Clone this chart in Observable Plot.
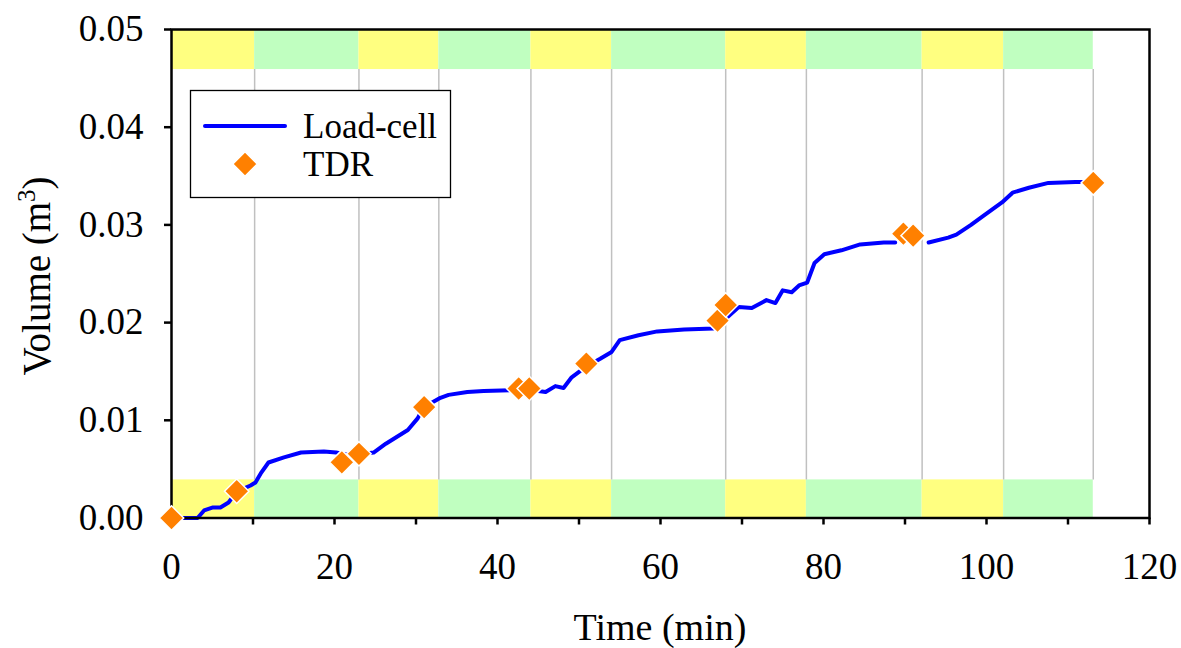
<!DOCTYPE html>
<html><head><meta charset="utf-8">
<script src="https://cdn.jsdelivr.net/npm/d3@7"></script>
<script src="https://cdn.jsdelivr.net/npm/@observablehq/plot@0.6"></script>
<style>body{margin:0;background:#fff}#chart{position:relative;width:1181px;height:648px}</style>
</head><body><div id="chart"></div>
<script>
// Load-cell series (time in min, volume in m3); NaN marks the missing stretch
const loadTime = [0, 1.5, 3.2, 4.0, 5.1, 6.0, 7.0, 8.0, 9.7, 10.3, 10.95, 11.9, 13.8, 15.9, 18.7, 20.2, 22.0, 24.8, 26.3, 29.0, 30.2, 30.9, 33.0, 34.0, 36.3, 38.3, 42.0, 44.1, 45.9, 47.1, 48.1, 49.1, 50.7, 52.6, 54.0, 55.0, 57.3, 59.6, 62.9, 66.5, 68.0, 69.6, 71.2, 73.0, 74.1, 75.0, 76.1, 77.0, 78.0, 78.9, 80.1, 82.2, 84.5, 87.4, 88.8, 90.8, 92.9, 95.3, 96.3, 98.1, 99.4, 101.9, 103.2, 105.2, 107.6, 110.9, 112.1];
const loadVolume = [0, 0, 0, 0.00077, 0.00108, 0.00108, 0.00159, 0.0027, 0.00333, 0.00364, 0.00456, 0.00568, 0.0062, 0.0067, 0.0068, 0.0067, 0.0064, 0.0067, 0.0076, 0.0090, 0.0102, 0.0113, 0.0123, 0.0126, 0.0129, 0.0130, 0.0131, 0.0131, 0.0129, 0.0135, 0.0133, 0.0144, 0.0154, 0.0163, 0.0170, 0.0182, 0.0187, 0.0191, 0.0193, 0.0194, 0.0204, 0.0216, 0.0215, 0.0223, 0.0220, 0.0233, 0.0231, 0.0238, 0.0241, 0.0261, 0.0270, 0.0274, 0.0280, 0.0282, 0.0282, NaN, 0.0282, 0.0287, 0.0290, 0.0300, 0.0308, 0.0323, 0.0333, 0.0338, 0.0343, 0.0344, 0.0344];
// TDR measurements
const tdrTime = [0, 8.0, 20.9, 23.0, 31.0, 42.6, 43.9, 50.9, 67.0, 68.0, 89.8, 91.0, 113.1];
const tdrVolume = [0, 0.00274, 0.0057, 0.00657, 0.01135, 0.01326, 0.01326, 0.0158, 0.0202, 0.0218, 0.0291, 0.0289, 0.0343];
// stage boundaries (min) and stage type
const stageEdges = [0, 10.2, 23.0, 32.8, 44.1, 54.0, 68.0, 77.9, 92.1, 102.1, 113.1];
const stageType = ["A", "B", "A", "B", "A", "B", "A", "B", "A", "B"];
const xTicks = [0, 10, 20, 30, 40, 50, 60, 70, 80, 90, 100, 110, 120];
const xLabelled = [0, 20, 40, 60, 80, 100, 120];
const yTicks = [0, 0.01, 0.02, 0.03, 0.04, 0.05];
const bandLow = [0, 0.0039];
const bandHigh = [0.0459, 0.05];

const load = loadTime.map((t, i) => ({t, v: loadVolume[i]}));
const tdr = tdrTime.map((t, i) => ({t, v: tdrVolume[i]}));
const stages = stageType.map((k, i) => ({x1: stageEdges[i], x2: stageEdges[i + 1], k}));
const colorOf = {A: "#ffff80", B: "#c0ffc0"};
const FONT = "Liberation Serif, Times New Roman, serif";
const R = 11;

const plot = Plot.plot({
  width: 1181, height: 648,
  marginLeft: 171, marginRight: 32, marginTop: 29, marginBottom: 130.5,
  style: {fontFamily: FONT, fontSize: "37px", color: "black", background: "white"},
  x: {domain: [0, 120]},
  y: {domain: [0, 0.05]},
  marks: [
    Plot.rect(stages, {x1: "x1", x2: "x2", y1: bandLow[0], y2: bandLow[1], fill: d => colorOf[d.k]}),
    Plot.rect(stages, {x1: "x1", x2: "x2", y1: bandHigh[0], y2: bandHigh[1], fill: d => colorOf[d.k]}),
    Plot.ruleX(stageEdges.slice(1), {y1: bandLow[1], y2: bandHigh[0], stroke: "#c0c0c0", strokeWidth: 1.5}),
    Plot.line(load, {x: "t", y: "v", stroke: "#0000ff", strokeWidth: 4, strokeLinejoin: "round"}),
    Plot.frame({stroke: "black", strokeWidth: 2.5}),
    Plot.axisX({ticks: xTicks, tickFormat: d => xLabelled.includes(d) ? String(d) : "", tickSize: 7, tickPadding: 28, strokeWidth: 2.5, label: null, fill: "black"}),
    Plot.axisY({ticks: yTicks, tickFormat: d3.format(".2f"), tickSize: 7, tickPadding: 21, strokeWidth: 2.5, label: null, fill: "black"}),
    Plot.dot(tdr, {x: "t", y: "v", symbol: "diamond2", r: R, fill: "#ff8000", stroke: "white", strokeWidth: 1.5})
  ]
});
document.getElementById("chart").appendChild(plot);

const svg = d3.select(plot);
// axis titles
svg.append("text").attr("x", 660).attr("y", 640).attr("text-anchor", "middle")
  .attr("font-family", FONT).attr("font-size", 38).attr("fill", "black").text("Time (min)");
const yt = svg.append("text").attr("transform", "translate(50,276) rotate(-90)").attr("text-anchor", "middle")
  .attr("font-family", FONT).attr("font-size", 39).attr("fill", "black");
yt.append("tspan").text("Volume (m");
yt.append("tspan").attr("font-size", 25).attr("dy", -15).text("3");
yt.append("tspan").attr("dy", 15).text(")");

// legend
const lg = svg.append("g").attr("font-family", FONT).attr("font-size", 35).attr("fill", "black").attr("text-anchor", "start");
lg.append("rect").attr("x", 190.5).attr("y", 90.5).attr("width", 260).attr("height", 107)
  .attr("fill", "white").attr("stroke", "black").attr("stroke-width", 1.3);
lg.append("line").attr("x1", 205).attr("x2", 285).attr("y1", 126).attr("y2", 126)
  .attr("stroke", "#0000ff").attr("stroke-width", 4).attr("stroke-linecap", "round");
lg.append("text").attr("x", 303).attr("y", 138).attr("text-anchor", "start").text("Load-cell");
lg.append("path").attr("transform", "translate(245,164)")
  .attr("d", d3.symbol(d3.symbolDiamond2, Math.PI * R * R)())
  .attr("fill", "#ff8000").attr("stroke", "white").attr("stroke-width", 1.5);
lg.append("text").attr("x", 303).attr("y", 176).attr("text-anchor", "start").text("TDR");
</script></body></html>
